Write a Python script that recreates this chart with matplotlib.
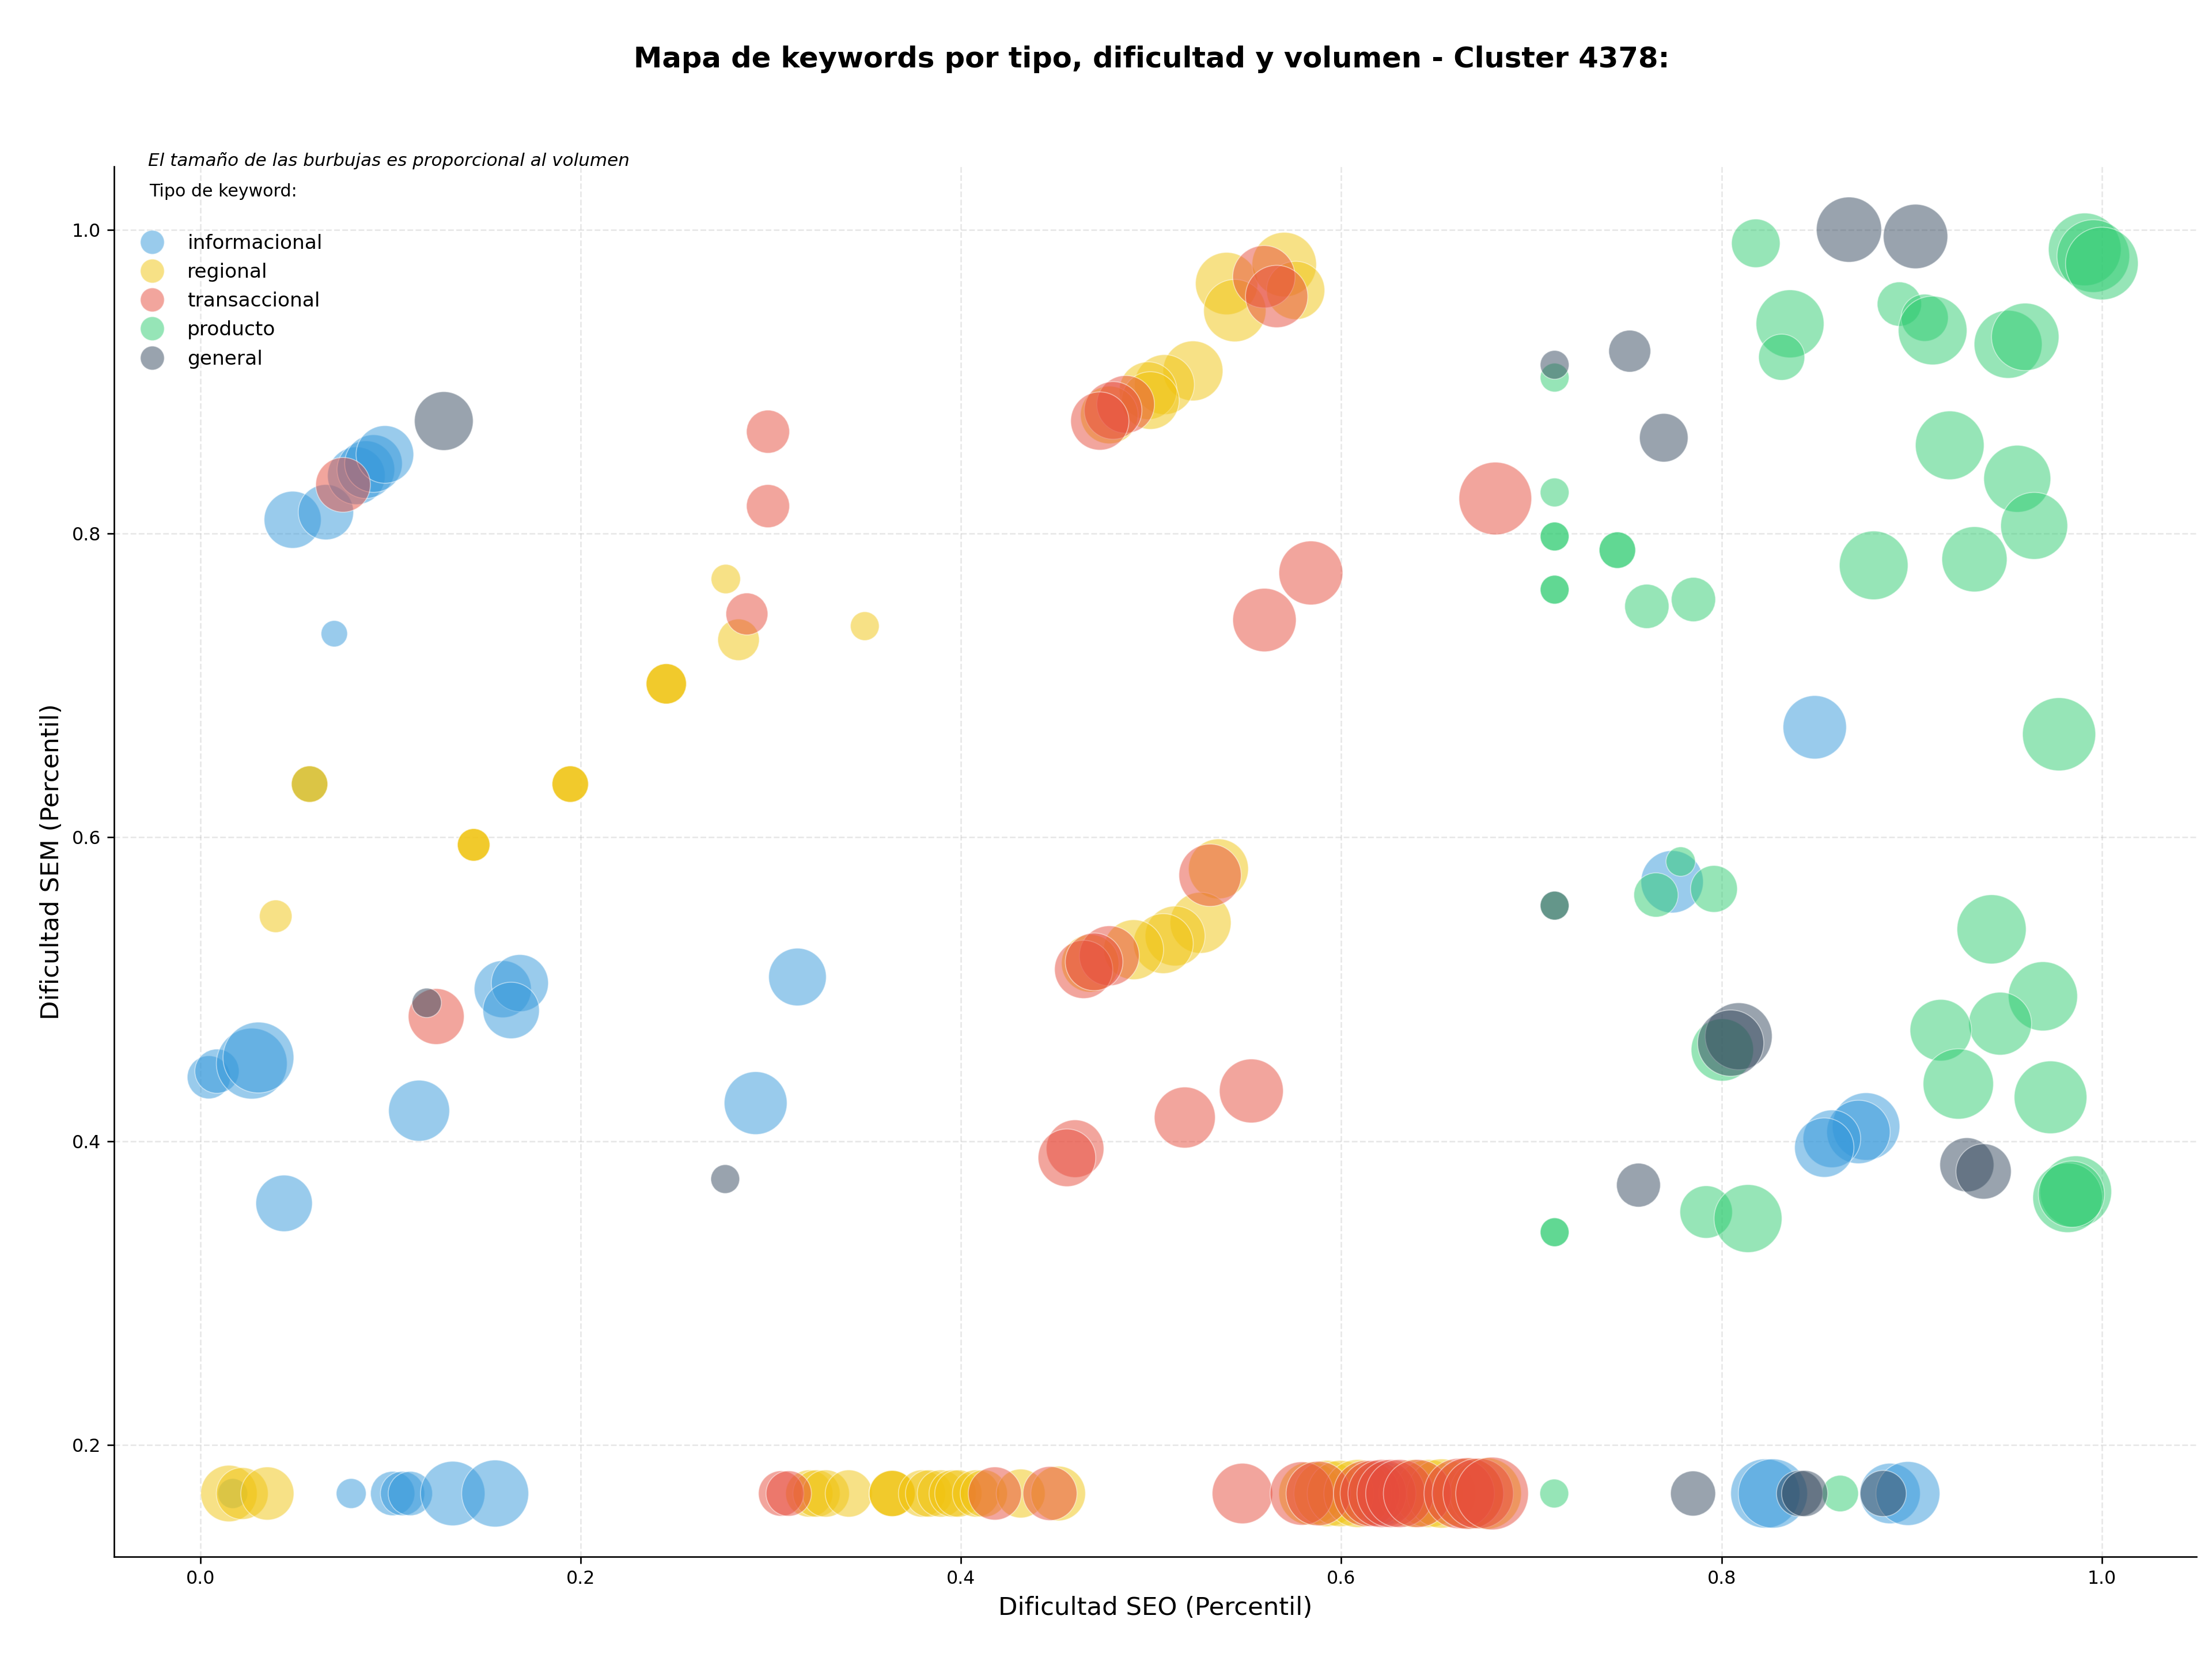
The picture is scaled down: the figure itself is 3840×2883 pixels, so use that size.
import matplotlib
matplotlib.use("Agg")
import matplotlib.pyplot as plt
from matplotlib.lines import Line2D

# ---------------- data ----------------
tipos = ["informacional", "regional", "transaccional", "producto", "general"]
colores = ["#3498db", "#f1c40f", "#e74c3c", "#2ecc71", "#34495e"]

# informacional
inf_seo = [0.0485, 0.066, 0.082, 0.087, 0.091, 0.097, 0.0704,
           0.0044, 0.0087, 0.027, 0.0305, 0.159, 0.168, 0.1634, 0.314, 0.115, 0.292, 0.044, 0.0574,
           0.849, 0.774, 0.876, 0.872, 0.858, 0.854,
           0.017, 0.0793, 0.1011, 0.1063, 0.1104, 0.1327, 0.155, 0.823, 0.827, 0.8886, 0.898, 0.622]
inf_sem = [0.809, 0.814, 0.838, 0.842, 0.846, 0.852, 0.734,
           0.442, 0.446, 0.451, 0.455, 0.500, 0.504, 0.486, 0.508, 0.420, 0.425, 0.359, 0.635,
           0.6724, 0.5707, 0.4096, 0.406, 0.4015, 0.3957,
           0.168, 0.168, 0.168, 0.168, 0.168, 0.168, 0.168, 0.168, 0.168, 0.168, 0.168, 0.168]
inf_vol = [980, 920, 1000, 1000, 1000, 1000, 210,
           560, 590, 1510, 1510, 980, 980, 960, 1000, 1120, 1190, 960, 400,
           1210, 1170, 1370, 1210, 1000, 1060,
           270, 270, 590, 590, 590, 1250, 1350, 1440, 1440, 1100, 1230, 1210]

# regional
reg_seo = [0.5397, 0.544, 0.570, 0.576,
           0.522, 0.507, 0.4984, 0.4996, 0.478,
           0.2763, 0.283, 0.3494, 0.245, 0.245, 0.245, 0.1945, 0.1945, 0.1945,
           0.1437, 0.1437, 0.1437, 0.0396, 0.0574, 0.0574,
           0.5354, 0.526, 0.5126, 0.5064, 0.4908, 0.468,
           0.0150, 0.022, 0.0352, 0.3202, 0.3240, 0.3289, 0.341, 0.3638, 0.3638, 0.3638,
           0.3795, 0.3832, 0.3894, 0.3956, 0.3986, 0.4079, 0.412, 0.4314, 0.4511,
           0.5838, 0.5925, 0.5995, 0.6087, 0.6377, 0.6458, 0.6527, 0.6666, 0.6759]
reg_sem = [0.9645, 0.9467, 0.977, 0.960,
           0.907, 0.898, 0.894, 0.8875, 0.878,
           0.770, 0.730, 0.739, 0.701, 0.701, 0.701, 0.635, 0.635, 0.635,
           0.595, 0.595, 0.595, 0.548, 0.635, 0.635,
           0.5792, 0.5437, 0.535, 0.530, 0.526, 0.517,
           0.168, 0.168, 0.168, 0.168, 0.168, 0.168, 0.168, 0.168, 0.168, 0.168,
           0.168, 0.168, 0.168, 0.168, 0.168, 0.168, 0.168, 0.168, 0.168,
           0.168, 0.168, 0.168, 0.168, 0.168, 0.168, 0.168, 0.168, 0.168]
reg_vol = [1170, 1170, 1250, 1020,
           1080, 1080, 1000, 1000, 1000,
           260, 520, 250, 490, 490, 490, 400, 400, 400,
           320, 320, 320, 320, 400, 400,
           1080, 1120, 1080, 1080, 1080, 1000,
           960, 810, 850, 670, 670, 670, 670, 640, 640, 640,
           670, 670, 670, 670, 670, 670, 670, 720, 900,
           1210, 1320, 1320, 1390, 1390, 1390, 1440, 1490, 1540]

# transaccional
tra_seo = [0.075, 0.124, 0.2985, 0.2985, 0.2874, 0.584, 0.5596, 0.5593, 0.566,
           0.4866, 0.480, 0.473, 0.531, 0.478, 0.4645, 0.470, 0.460, 0.4557, 0.5177, 0.5527, 0.681,
           0.3054, 0.3094, 0.4178, 0.4468, 0.548, 0.5792, 0.5879, 0.6133, 0.6168, 0.6214,
           0.6261, 0.6307, 0.640, 0.662, 0.6666, 0.672, 0.6793]
tra_sem = [0.832, 0.482, 0.867, 0.818, 0.747, 0.774, 0.743, 0.969, 0.956,
           0.885, 0.881, 0.874, 0.575, 0.522, 0.513, 0.518, 0.395, 0.389, 0.4155, 0.433, 0.823,
           0.168, 0.168, 0.168, 0.168, 0.168, 0.168, 0.168, 0.168, 0.168, 0.168,
           0.168, 0.168, 0.168, 0.168, 0.168, 0.168, 0.168]
tra_vol = [900, 940, 560, 560, 530, 1230, 1210, 1170, 1170,
           1000, 1000, 1020, 1170, 1080, 1020, 1000, 1000, 1000, 1120, 1230, 1590,
           620, 620, 850, 880, 1100, 1210, 1250, 1320, 1320, 1390,
           1390, 1390, 1390, 1490, 1540, 1490, 1590]

# producto
pro_seo = [0.818, 0.991, 0.9955, 1.0, 0.8935, 0.9068, 0.911, 0.9507, 0.9597, 0.836, 0.8316,
           0.7122, 0.7122, 0.7122, 0.7122, 0.7452, 0.7452, 0.7122, 0.7122, 0.7607, 0.7852,
           0.920, 0.9555, 0.9644, 0.880, 0.933, 0.9775,
           0.7122, 0.7785, 0.7655, 0.796, 0.942, 0.969, 0.9465, 0.9153, 0.9245, 0.973, 0.8004,
           0.9863, 0.982, 0.984, 0.7919, 0.8139, 0.7122, 0.7122, 0.712, 0.8624]
pro_sem = [0.991, 0.987, 0.9826, 0.9777, 0.951, 0.942, 0.9336, 0.9245, 0.9294, 0.938, 0.916,
           0.9026, 0.827, 0.798, 0.798, 0.789, 0.789, 0.763, 0.763, 0.752, 0.7565,
           0.858, 0.836, 0.805, 0.779, 0.783, 0.6678,
           0.555, 0.584, 0.562, 0.566, 0.5394, 0.4953, 0.4773, 0.473, 0.4376, 0.4288, 0.460,
           0.3667, 0.3627, 0.365, 0.3533, 0.349, 0.340, 0.340, 0.168, 0.168]
pro_vol = [710, 1590, 1590, 1590, 590, 670, 1420, 1390, 1370, 1390, 640,
           250, 250, 250, 250, 400, 400, 250, 250, 590, 590,
           1420, 1350, 1350, 1420, 1280, 1610,
           250, 260, 590, 660, 1440, 1440, 1190, 1140, 1490, 1590, 1170,
           1540, 1460, 1320, 830, 1390, 250, 250, 250, 400]

# general
gen_seo = [0.128, 0.119, 0.276, 0.867, 0.902, 0.7122, 0.7517, 0.7696, 0.7122,
           0.809, 0.8048, 0.929, 0.9378, 0.7563, 0.785, 0.841, 0.8437, 0.885]
gen_sem = [0.874, 0.491, 0.375, 1.0, 0.9955, 0.911, 0.920, 0.863, 0.555,
           0.469, 0.4645, 0.3844, 0.380, 0.371, 0.168, 0.168, 0.168, 0.168]
gen_vol = [1040, 260, 250, 1280, 1250, 250, 530, 710, 250,
           1350, 1320, 880, 920, 580, 610, 640, 640, 640]

series = [
    (inf_seo, inf_sem, inf_vol),
    (reg_seo, reg_sem, reg_vol),
    (tra_seo, tra_sem, tra_vol),
    (pro_seo, pro_sem, pro_vol),
    (gen_seo, gen_sem, gen_vol),
]

titulo = "Mapa de keywords por tipo, dificultad y volumen - Cluster 4378:"
nota = "El tamaño de las burbujas es proporcional al volumen"
leyenda_titulo = "Tipo de keyword:"
xlabel = "Dificultad SEO (Percentil)"
ylabel = "Dificultad SEM (Percentil)"

# ---------------- figure ----------------
SIZE_SCALE = 0.9
fig = plt.figure(figsize=(16, 12.0125), dpi=240)
ax = fig.add_axes([0.0516, 0.0628, 0.9414, 0.837])
ax.set_axisbelow(True)

for (xs, ys, vs), col in zip(series, colores):
    ax.scatter(xs, ys, s=[v * SIZE_SCALE for v in vs], c=col, alpha=0.5,
               edgecolors="white", linewidths=0.5)

ax.grid(True, linestyle="--", alpha=0.3)
ax.spines["top"].set_visible(False)
ax.spines["right"].set_visible(False)
ax.set_xticks([0.0, 0.2, 0.4, 0.6, 0.8, 1.0])
ax.set_yticks([0.2, 0.4, 0.6, 0.8, 1.0])
ax.tick_params(labelsize=9.5)
ax.set_xlabel(xlabel, fontsize=13)
ax.set_ylabel(ylabel, fontsize=13)

fig.text(0.5205, 1 - 103 / 2883, titulo, ha="center", va="center",
         fontsize=14.9, fontweight="bold")

ax.text(0.0164, 1.004, nota, transform=ax.transAxes, ha="left", va="center",
        fontsize=9.3, fontstyle="italic")
ax.text(0.0169, 0.9818, leyenda_titulo, transform=ax.transAxes, ha="left",
        va="center", fontsize=9)

handles = [Line2D([0], [0], marker="o", linestyle="", markersize=12.5,
                  markerfacecolor=c, markeredgecolor="white", markeredgewidth=0.5,
                  alpha=0.5) for c in colores]
leg = ax.legend(handles, tipos, loc="upper left", bbox_to_anchor=(0.0086, 0.9515),
                borderaxespad=0, borderpad=0, frameon=False, fontsize=10.3,
                labelspacing=0.5)

fig.savefig("out.png", dpi=240)
